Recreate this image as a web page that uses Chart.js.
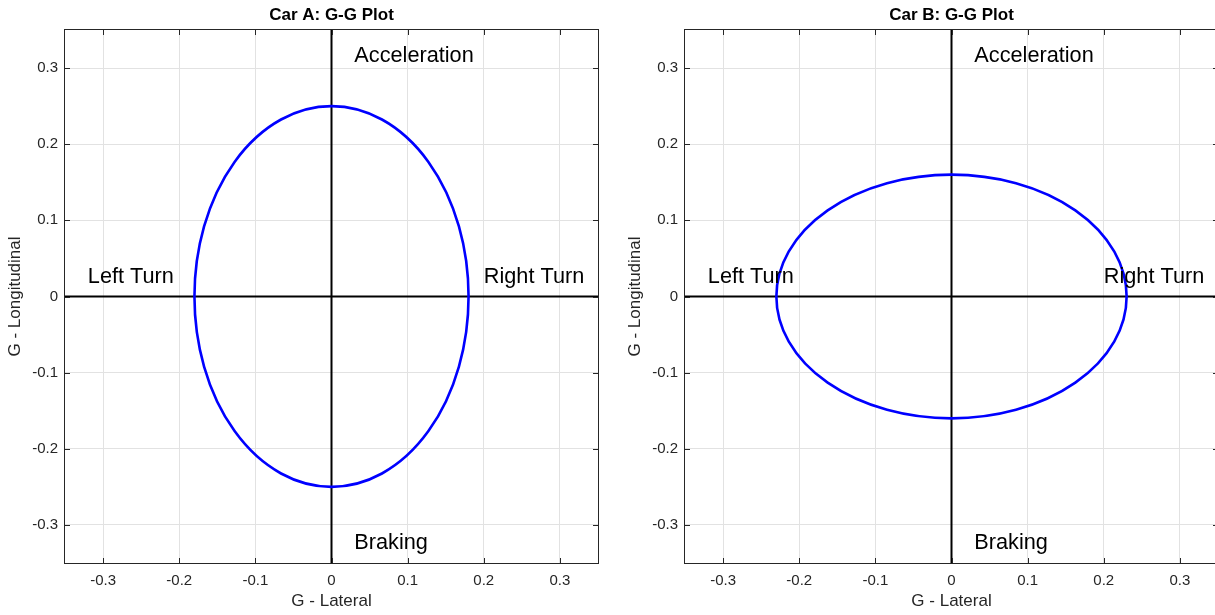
<!DOCTYPE html>
<html><head><meta charset="utf-8">
<script src="https://cdn.jsdelivr.net/npm/chart.js@4.4.0/dist/chart.umd.min.js"></script>
<style>
html,body{margin:0;padding:0;background:#fff;overflow:hidden;width:1215px;height:615px;}
#wrap{position:relative;width:1215px;height:615px;overflow:hidden;background:#fff;}
canvas{position:absolute;top:0;}
#cA{left:0;} #cB{left:620px;}
</style></head><body><div id="wrap"><canvas id="cA" width="610" height="615"></canvas><canvas id="cB" width="610" height="615"></canvas></div>
<script>
const chartTitles = ['Car A: G-G Plot', 'Car B: G-G Plot'];
const xAxisTitle = 'G - Lateral';
const yAxisTitle = 'G - Longitudinal';
const tickValues = [-0.3, -0.2, -0.1, 0, 0.1, 0.2, 0.3];
const tickLabels = ['-0.3', '-0.2', '-0.1', '0', '0.1', '0.2', '0.3'];
const axisRange = [-0.35, 0.35];
// friction-ellipse extreme points: right, top, left, bottom
const carALateral = [0.18, 0, -0.18, 0];
const carALongitudinal = [0, 0.25, 0, -0.25];
const carBLateral = [0.23, 0, -0.23, 0];
const carBLongitudinal = [0, 0.16, 0, -0.16];
// zero reference lines
const zeroLineSpan = [-0.35, 0.35];
// annotations
const annotationTexts = ['Acceleration', 'Left Turn', 'Right Turn', 'Braking'];
const annotationX = [0.03, -0.32, 0.2, 0.03];
const annotationY = [0.32, 0.03, 0.03, -0.32];

const FONT = '"Liberation Sans", Arial, Helvetica, sans-serif';
Chart.defaults.font.family = FONT;
Chart.defaults.color = '#262626';

const decorPlugin = {
  id: 'decor',
  afterDatasetsDraw(chart) {
    const ctx = chart.ctx;
    const p = chart.getDatasetMeta(2).data;
    const cx = (p[0].x + p[2].x) / 2, cy = (p[1].y + p[3].y) / 2;
    const rx = Math.abs(p[0].x - p[2].x) / 2, ry = Math.abs(p[3].y - p[1].y) / 2;
    ctx.save();
    ctx.beginPath();
    ctx.ellipse(cx, cy, rx, ry, 0, 0, 2 * Math.PI);
    ctx.strokeStyle = '#0000ff';
    ctx.lineWidth = 2.6;
    ctx.stroke();
    ctx.restore();
  },
  afterDraw(chart) {
    const ctx = chart.ctx;
    const xs = chart.scales.x, ys = chart.scales.y;
    const a = chart.chartArea;
    ctx.save();
    // annotations (vertically centred on their data point)
    ctx.fillStyle = '#000';
    ctx.font = '21.7px ' + FONT;
    ctx.textAlign = 'left';
    ctx.textBaseline = 'alphabetic';
    annotationTexts.forEach((t, i) => {
      ctx.fillText(t, xs.getPixelForValue(annotationX[i]), ys.getPixelForValue(annotationY[i]) + 9.3);
    });
    // box
    ctx.strokeStyle = '#262626';
    ctx.lineWidth = 1;
    ctx.strokeRect(a.left - 0.5, a.top - 0.5, a.right - a.left + 1, a.bottom - a.top + 1);
    // inward ticks
    ctx.beginPath();
    tickValues.forEach(v => {
      const px = Math.round(xs.getPixelForValue(v)) + 0.5;
      ctx.moveTo(px, a.top); ctx.lineTo(px, a.top + 5);
      ctx.moveTo(px, a.bottom); ctx.lineTo(px, a.bottom - 5);
      const py = Math.round(ys.getPixelForValue(v)) + 0.5;
      ctx.moveTo(a.left, py); ctx.lineTo(a.left + 5, py);
      ctx.moveTo(a.right, py); ctx.lineTo(a.right - 5, py);
    });
    ctx.stroke();
    ctx.restore();
  }
};

function makeChart(id, idx, lat, lon) {
  const axisCommon = {
    type: 'linear',
    min: axisRange[0],
    max: axisRange[1],
    afterBuildTicks: s => { s.ticks = tickValues.map(v => ({ value: v })); },
    grid: { color: '#e2e2e2', drawTicks: false, lineWidth: 1 },
    border: { display: false }
  };
  return new Chart(document.getElementById(id), {
    type: 'scatter',
    data: {
      datasets: [
        { data: zeroLineSpan.map(v => ({ x: v, y: 0 })), showLine: true, borderColor: '#000', borderWidth: 2, pointRadius: 0 },
        { data: zeroLineSpan.map(v => ({ x: 0, y: v })), showLine: true, borderColor: '#000', borderWidth: 2, pointRadius: 0 },
        { data: lat.map((v, i) => ({ x: v, y: lon[i] })), showLine: false, pointRadius: 0, pointHoverRadius: 0, borderColor: '#0000ff' }
      ]
    },
    options: {
      responsive: false,
      animation: false,
      devicePixelRatio: 1,
      events: [],
      layout: { padding: { left: 0, right: 12, top: 0, bottom: 0 } },
      plugins: {
        legend: { display: false },
        tooltip: { enabled: false },
        title: {
          display: true, text: chartTitles[idx], fullSize: false, color: '#000',
          font: { size: 17, weight: 'bold', family: FONT },
          padding: { top: 5.5, bottom: 4.1 }
        }
      },
      scales: {
        x: Object.assign({}, axisCommon, {
          position: 'bottom',
          afterFit: s => { s.height = 52; },
          ticks: { autoSkip: false, maxRotation: 0, padding: 9, font: { size: 15 }, color: '#262626',
                   callback: (v, i) => tickLabels[i] },
          title: { display: true, text: xAxisTitle, color: '#262626', font: { size: 17 }, padding: { top: 0, bottom: 3 } }
        }),
        y: Object.assign({}, axisCommon, {
          position: 'left',
          afterFit: s => { s.width = 65; },
          ticks: { autoSkip: false, padding: 7, font: { size: 15 }, color: '#262626',
                   callback: (v, i) => tickLabels[i] },
          title: { display: true, text: yAxisTitle, color: '#262626', font: { size: 17 }, padding: { top: 5, bottom: 0 } }
        })
      }
    },
    plugins: [decorPlugin]
  });
}
makeChart('cA', 0, carALateral, carALongitudinal);
makeChart('cB', 1, carBLateral, carBLongitudinal);
</script></body></html>
